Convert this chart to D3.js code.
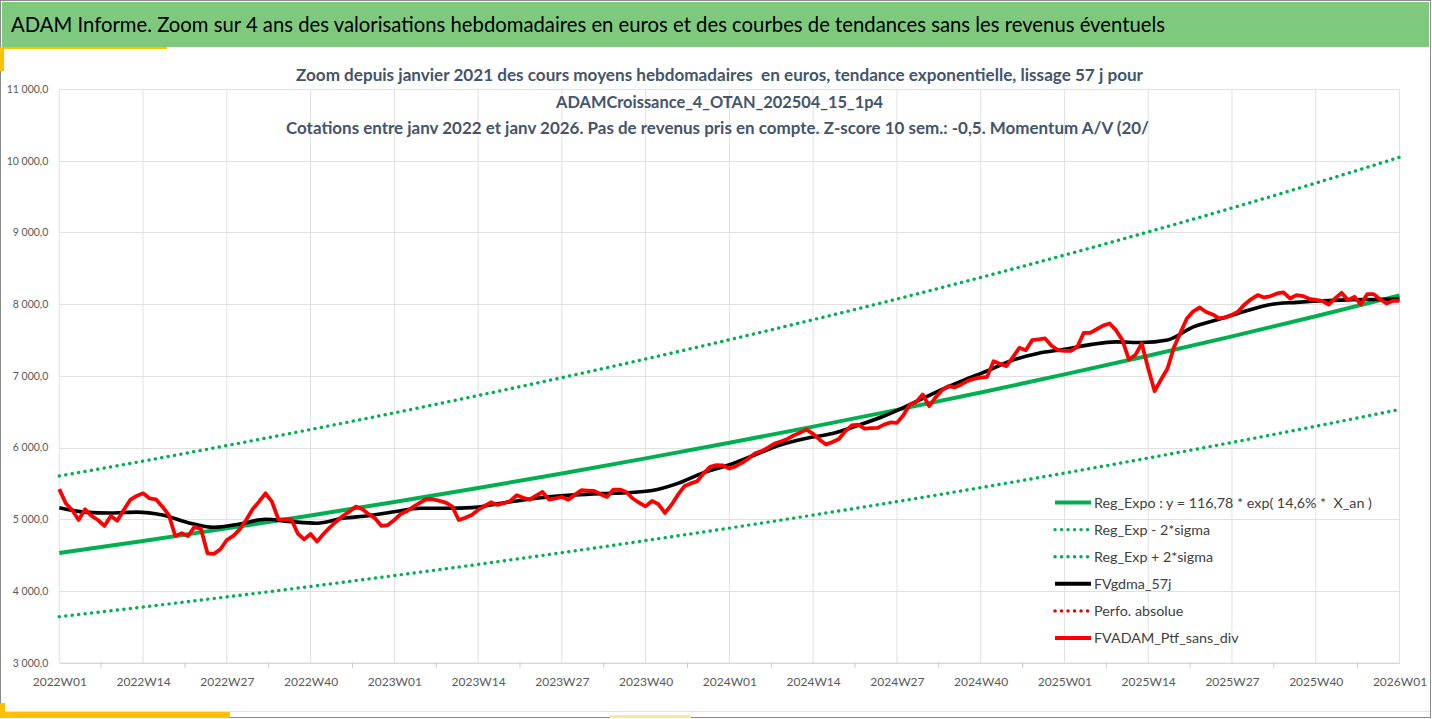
<!DOCTYPE html>
<html>
<head>
<meta charset="utf-8">
<script src="https://cdn.jsdelivr.net/npm/d3@7"></script>
<style>
  html, body { margin: 0; padding: 0; background: #fff; }
  svg { display: block; font-family: Lato, "Open Sans", sans-serif; }
  text { white-space: pre; }
</style>
</head>
<body>
<div id="chart"></div>
<script>
// weekly categories 2022W01 .. 2026W01
var weeks = [];
[2022, 2023, 2024, 2025].forEach(function(yr) {
    for (var w = 1; w <= 52; w++) weeks.push(yr + "W" + (w < 10 ? "0" + w : w));
});
weeks.push("2026W01");

var tickLabels = ["2022W01","2022W14","2022W27","2022W40","2023W01","2023W14","2023W27","2023W40",
    "2024W01","2024W14","2024W27","2024W40","2025W01","2025W14","2025W27","2025W40","2026W01"];

var yTicks = [3000, 4000, 5000, 6000, 7000, 8000, 9000, 10000, 11000];

// FVADAM_Ptf_sans_div, one value per week
var portfolio = [
    5420, 5223, 5130, 4990, 5139, 5046, 4990, 4907, 5046, 4980,
    5130, 5269, 5325, 5362, 5293, 5279, 5176, 5060, 4767, 4805,
    4767, 4897, 4860, 4526, 4517, 4582, 4711, 4767, 4860, 4990,
    5139, 5246, 5362, 5246, 5000, 5000, 5000, 4805, 4720, 4795,
    4688, 4795, 4888, 4970, 5046, 5106, 5176, 5143, 5074, 5013,
    4907, 4920, 4990, 5074, 5116, 5176, 5232, 5283, 5279, 5256,
    5232, 5176, 4990, 5020, 5060, 5130, 5185, 5237, 5200, 5223,
    5256, 5335, 5300, 5274, 5330, 5381, 5274, 5290, 5312, 5274,
    5340, 5405, 5400, 5395, 5350, 5312, 5414, 5414, 5380, 5290,
    5230, 5181, 5256, 5209, 5088, 5200, 5340, 5460, 5500, 5530,
    5640, 5730, 5755, 5750, 5707, 5740, 5790, 5850, 5920, 5950,
    6000, 6056, 6085, 6120, 6170, 6210, 6251, 6190, 6110, 6042,
    6079, 6120, 6230, 6310, 6320, 6265, 6270, 6274, 6320, 6350,
    6344, 6450, 6600, 6637, 6740, 6577, 6700, 6800, 6856, 6840,
    6880, 6930, 6960, 6975, 6986, 7205, 7170, 7135, 7260, 7391,
    7358, 7498, 7510, 7521, 7420, 7360, 7349, 7349, 7405, 7600,
    7600, 7650, 7700, 7730, 7637, 7498, 7228, 7288, 7451, 7102,
    6786, 6950, 7102, 7400, 7600, 7800, 7900, 7953, 7890, 7856,
    7800, 7815, 7850, 7900, 8000, 8070, 8126, 8093, 8112, 8150,
    8165, 8079, 8126, 8112, 8075, 8060, 8047, 7995, 8079, 8158,
    8056, 8102, 7995, 8140, 8140, 8065, 8009, 8047, 8047
];

// FVgdma_57j, read every 4 weeks
var smaWeekIdx = d3.range(0, 209, 4);
var sma = [
    5162, 5100, 5088, 5100, 5060, 4953, 4888, 4934, 5000, 4967,
    4944, 5013, 5050, 5106, 5153, 5153, 5162, 5215, 5270, 5312,
    5340, 5358, 5370, 5400, 5500, 5650, 5760, 5900, 6040, 6130,
    6195, 6310, 6440, 6600, 6770, 6925, 7070, 7220, 7316, 7370,
    7435, 7474, 7465, 7500, 7684, 7790, 7900, 7995, 8025, 8047,
    8060, 8065, 8070
];

// trend curves read at each labelled week
var regExpo = [4530, 4698, 4873, 5054, 5242, 5437, 5639, 5849, 6066, 6292, 6525, 6768, 7020, 7281, 7551, 7832, 8123];
var regUpper = [5604, 5811, 6028, 6252, 6484, 6726, 6975, 7235, 7504, 7783, 8071, 8372, 8684, 9007, 9341, 9688, 10048];
var regLower = [3642, 3777, 3918, 4063, 4215, 4371, 4534, 4703, 4877, 5059, 5246, 5441, 5644, 5854, 6071, 6297, 6531];

var headerText = "ADAM Informe. Zoom sur 4 ans des valorisations hebdomadaires en euros et des courbes de tendances sans les revenus éventuels";
var titleLines = [
    "Zoom depuis janvier 2021 des cours moyens hebdomadaires  en euros, tendance exponentielle, lissage 57 j pour",
    "ADAMCroissance_4_OTAN_202504_15_1p4",
    "Cotations entre janv 2022 et janv 2026. Pas de revenus pris en compte. Z-score 10 sem.: -0,5. Momentum A/V (20/"
];
var titleWidths = [847, 327, 863];

var legendItems = [
    {name: "Reg_Expo : y = 116,78 * exp( 14,6% *  X_an )", color: "#00B050", dotted: false},
    {name: "Reg_Exp - 2*sigma", color: "#00B050", dotted: true},
    {name: "Reg_Exp + 2*sigma", color: "#00B050", dotted: true},
    {name: "FVgdma_57j", color: "#000000", dotted: false},
    {name: "Perfo. absolue", color: "#E00000", dotted: true},
    {name: "FVADAM_Ptf_sans_div", color: "#FF0000", dotted: false}
];

var W = 1432, H = 719;
var plot = {left: 59.3, right: 1399.5, top: 89, bottom: 662.7};

var svg = d3.select("#chart").append("svg")
    .attr("width", W)
    .attr("height", H);

// frame and header band
svg.append("rect").attr("x", 0.5).attr("y", 0.5).attr("width", 1430).attr("height", 717)
    .attr("fill", "#fff").attr("stroke", "#8a8a8a");
svg.append("rect").attr("x", 2).attr("y", 2).attr("width", 1427).attr("height", 45).attr("fill", "#7FC97F");
svg.append("text").attr("x", 11).attr("y", 32).attr("font-size", "21px").attr("fill", "#000")
    .attr("textLength", 1154).attr("lengthAdjust", "spacingAndGlyphs")
    .text(headerText);
svg.append("rect").attr("x", 0).attr("y", 47).attr("width", 4).attr("height", 24).attr("fill", "#FFC000");
svg.append("rect").attr("x", 0).attr("y", 47).attr("width", 167).attr("height", 2).attr("fill", "#FFC000");
svg.append("line").attr("x1", 5).attr("x2", 1430).attr("y1", 711.5).attr("y2", 711.5).attr("stroke", "#e3e3e3");
svg.append("rect").attr("x", 0).attr("y", 703).attr("width", 5).attr("height", 15).attr("fill", "#FFC000");
svg.append("rect").attr("x", 0).attr("y", 712).attr("width", 230).attr("height", 6).attr("fill", "#FFC000");
svg.append("rect").attr("x", 610).attr("y", 715).attr("width", 81).attr("height", 3).attr("fill", "#FFE699");

var xScale = d3.scalePoint()
    .domain(weeks)
    .range([plot.left, plot.right]);

var yScale = d3.scaleLinear()
    .domain([3000, 11000])
    .range([plot.bottom, plot.top]);

var fr = d3.formatLocale({decimal: ",", thousands: " ", grouping: [3], currency: ["", " €"]});
var yFormat = fr.format(",.1f");

// gridlines
svg.append("g")
    .selectAll("line.h")
    .data(yTicks.slice(1))
    .enter().append("line")
    .attr("x1", plot.left).attr("x2", plot.right)
    .attr("y1", d => Math.round(yScale(d)) + 0.5).attr("y2", d => Math.round(yScale(d)) + 0.5)
    .attr("stroke", "#e1e1e1");

svg.append("g")
    .selectAll("line.v")
    .data(tickLabels)
    .enter().append("line")
    .attr("x1", d => xScale(d)).attr("x2", d => xScale(d))
    .attr("y1", plot.top).attr("y2", plot.bottom)
    .attr("stroke", "#e1e1e1");

// y axis labels
var yAxis = svg.append("g")
    .attr("transform", `translate(${plot.left - 11},0)`)
    .call(d3.axisLeft(yScale).tickValues(yTicks).tickFormat(yFormat).tickSize(0));
yAxis.select(".domain").remove();
yAxis.selectAll("text")
    .attr("x", 0)
    .style("font-size", "10.5px")
    .style("fill", "#595959")
    .style("font-family", "Lato, sans-serif");

// x axis
var xAxis = svg.append("g")
    .attr("transform", `translate(0,${plot.bottom})`)
    .call(d3.axisBottom(xScale).tickValues(tickLabels).tickSize(0).tickPadding(15));
xAxis.select(".domain").attr("stroke", "#c8c8c8");
xAxis.selectAll("text")
    .style("font-size", "12px")
    .style("fill", "#595959")
    .style("font-family", "Lato, sans-serif");

// small tick marks between labelled weeks
svg.append("g")
    .selectAll("line")
    .data(tickLabels.slice(0, -1))
    .enter().append("line")
    .attr("x1", d => xScale(d) + xScale.step() * 6.5)
    .attr("x2", d => xScale(d) + xScale.step() * 6.5)
    .attr("y1", plot.bottom).attr("y2", plot.bottom + 5)
    .attr("stroke", "#c8c8c8");

// titles
svg.append("g")
    .selectAll("text")
    .data(titleLines)
    .enter().append("text")
    .attr("x", (d, i) => i == 2 ? 717.5 : 719.5)
    .attr("y", (d, i) => 81 + i * 26.5)
    .attr("text-anchor", "middle")
    .attr("font-size", "17.6px")
    .attr("font-weight", "bold")
    .attr("fill", "#44546A")
    .attr("textLength", (d, i) => titleWidths[i])
    .attr("lengthAdjust", "spacingAndGlyphs")
    .text(d => d);

// series
var lineTicks = d3.line()
    .x((d, i) => xScale(tickLabels[i]))
    .y(d => yScale(d))
    .curve(d3.curveMonotoneX);

function dotted(sel, color) {
    sel.attr("fill", "none")
        .attr("stroke", color)
        .attr("stroke-width", 3.4)
        .attr("stroke-linecap", "round")
        .attr("stroke-dasharray", "0.1,6.4");
}

svg.append("path").datum(regLower).attr("d", lineTicks).call(dotted, "#00B050");
svg.append("path").datum(regUpper).attr("d", lineTicks).call(dotted, "#00B050");
svg.append("path").datum(regExpo).attr("d", lineTicks)
    .attr("fill", "none").attr("stroke", "#00B050").attr("stroke-width", 4);

svg.append("path")
    .datum(sma)
    .attr("d", d3.line()
        .x((d, i) => xScale(weeks[smaWeekIdx[i]]))
        .y(d => yScale(d))
        .curve(d3.curveMonotoneX))
    .attr("fill", "none").attr("stroke", "#000").attr("stroke-width", 3.6);

svg.append("path")
    .datum(portfolio)
    .attr("d", d3.line()
        .x((d, i) => xScale(weeks[i]))
        .y(d => yScale(d)))
    .attr("fill", "none").attr("stroke", "#FF0000").attr("stroke-width", 3.8)
    .attr("stroke-linejoin", "round");

// legend
var legend = svg.append("g").attr("transform", "translate(1055,502.5)");
var rows = legend.selectAll("g")
    .data(legendItems)
    .enter().append("g")
    .attr("transform", (d, i) => `translate(0,${i * 27.1})`);
rows.append("line")
    .attr("x1", 0).attr("x2", 36).attr("y1", 0).attr("y2", 0)
    .each(function(d) {
        var l = d3.select(this);
        if (d.dotted) l.call(dotted, d.color);
        else l.attr("stroke", d.color).attr("stroke-width", 4);
    });
rows.append("text")
    .attr("x", 39)
    .attr("y", 5)
    .attr("font-size", "14.3px")
    .attr("fill", "#404040")
    .text(d => d.name);
</script>
</body>
</html>
